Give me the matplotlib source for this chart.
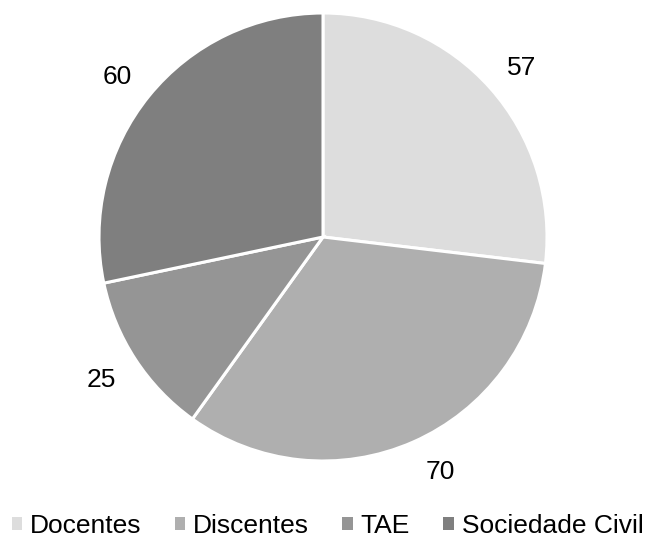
import matplotlib
matplotlib.use("Agg")
import matplotlib.pyplot as plt
import numpy as np
from matplotlib.patches import Patch

categories = ["Docentes", "Discentes", "TAE", "Sociedade Civil"]
values = [57, 70, 25, 60]
colors = ["#dddddd", "#afafaf", "#959595", "#7f7f7f"]
label_dist = [1.17, 1.165, 1.17, 1.17]
label_shift = [-0.8, 3, -0.8, 0.8]

plt.rcParams['font.family'] = ['Liberation Sans', 'DejaVu Sans']

W, H = 646, 538
fig = plt.figure(figsize=(W/100, H/100), dpi=100)
cx, cy, r = 323, 237, 224
ax = fig.add_axes([(cx - r)/W, (H - cy - r)/H, 2*r/W, 2*r/H])
wedges, _ = ax.pie(values, colors=colors, startangle=90, counterclock=False,
                   radius=1, wedgeprops=dict(edgecolor="white", linewidth=2.2))
ax.set_xlim(-1, 1)
ax.set_ylim(-1, 1)
ax.set_aspect('auto')
ax.axis('off')

for w, v, d, s in zip(wedges, values, label_dist, label_shift):
    ang = np.deg2rad((w.theta1 + w.theta2) / 2 + s)
    ax.text(d*np.cos(ang), d*np.sin(ang), str(v), ha='center', va='center_baseline',
            fontsize=19, color='black', clip_on=False)

handles = [Patch(facecolor=c, edgecolor='none') for c in colors]
fig.legend(handles, categories, loc='center', bbox_to_anchor=(0.507, 1 - 526/H),
           ncol=4, frameon=False, fontsize=19, handlelength=0.4, handleheight=0.4,
           handletextpad=0.3, columnspacing=1.25, borderaxespad=0, borderpad=0)

fig.savefig("out.png", dpi=100)
